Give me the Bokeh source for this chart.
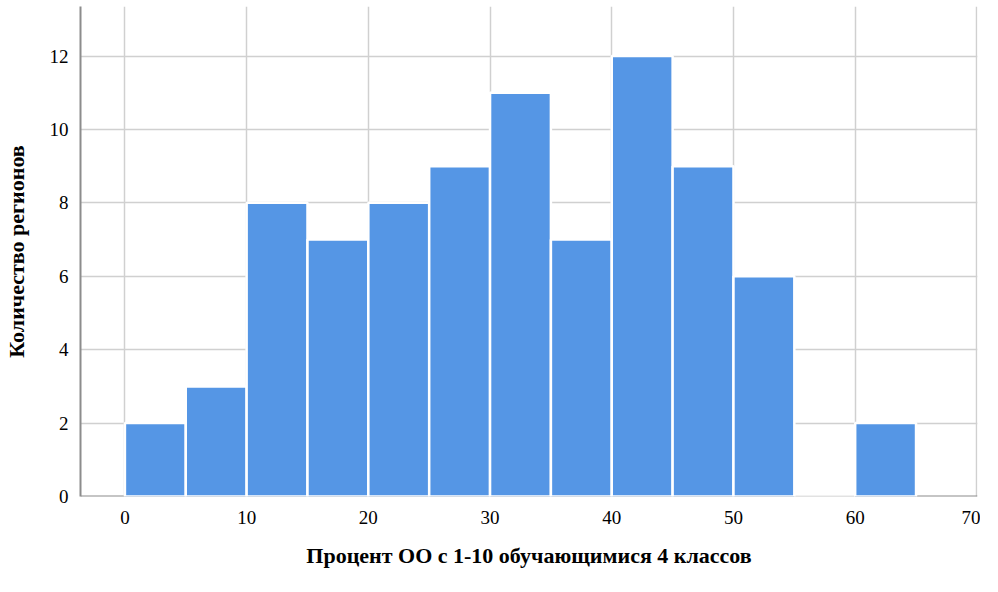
from bokeh.plotting import figure
from bokeh.embed import file_html
from bokeh.resources import INLINE
from bokeh.models import ColumnDataSource, Span, FixedTicker, Range1d

bin_left = [0, 5, 10, 15, 20, 25, 30, 35, 40, 45, 50, 55, 60]
bin_right = [5, 10, 15, 20, 25, 30, 35, 40, 45, 50, 55, 60, 65]
counts = [2, 3, 8, 7, 8, 9, 11, 7, 12, 9, 6, 0, 2]
x_ticks = [0, 10, 20, 30, 40, 50, 60, 70]
y_ticks = [0, 2, 4, 6, 8, 10, 12]

src = ColumnDataSource(dict(left=bin_left, right=bin_right, top=counts, bottom=[0] * len(counts)))

p = figure(width=980, height=570, output_backend="svg", toolbar_location=None,
           x_range=Range1d(-3.65, 70.05), y_range=Range1d(0, 13.35),
           min_border_left=70, min_border_top=6, min_border_right=3, min_border_bottom=60)
p.outline_line_color = None
p.background_fill_color = "white"

p.xgrid.ticker = FixedTicker(ticks=x_ticks)
p.ygrid.ticker = FixedTicker(ticks=y_ticks)
p.xgrid.grid_line_color = "#d0d0d0"
p.ygrid.grid_line_color = "#d0d0d0"
p.xgrid.grid_line_width = 1.5
p.ygrid.grid_line_width = 1.5

base = Span(location=0, dimension="width", line_color="#8c8c8c", line_width=2, level="underlay")
p.add_layout(base)

p.quad(left="left", right="right", top="top", bottom="bottom", source=src,
       fill_color="#5596E5", line_color="white", line_width=2.5)

p.xaxis.ticker = FixedTicker(ticks=x_ticks)
p.yaxis.ticker = FixedTicker(ticks=y_ticks)
p.xaxis.axis_line_color = None
p.yaxis.axis_line_color = "#8c8c8c"
p.yaxis.axis_line_width = 2
for ax in (p.xaxis[0], p.yaxis[0]):
    ax.major_tick_line_color = None
    ax.minor_tick_line_color = None
    ax.major_label_text_font = "Liberation Serif"
    ax.major_label_text_font_size = "19px"
    ax.major_label_text_color = "black"
    ax.axis_label_text_font = "Liberation Serif"
    ax.axis_label_text_font_size = "22px"
    ax.axis_label_text_font_style = "bold"
    ax.axis_label_text_color = "black"
p.xaxis.axis_label = "Процент ОО с 1-10 обучающимися 4 классов"
p.yaxis.axis_label = "Количество регионов"
p.xaxis.major_label_standoff = 8
p.yaxis.major_label_standoff = 6
p.xaxis.axis_label_standoff = 16
p.yaxis.axis_label_standoff = 18

open("out.html", "w").write(file_html(p, INLINE))
